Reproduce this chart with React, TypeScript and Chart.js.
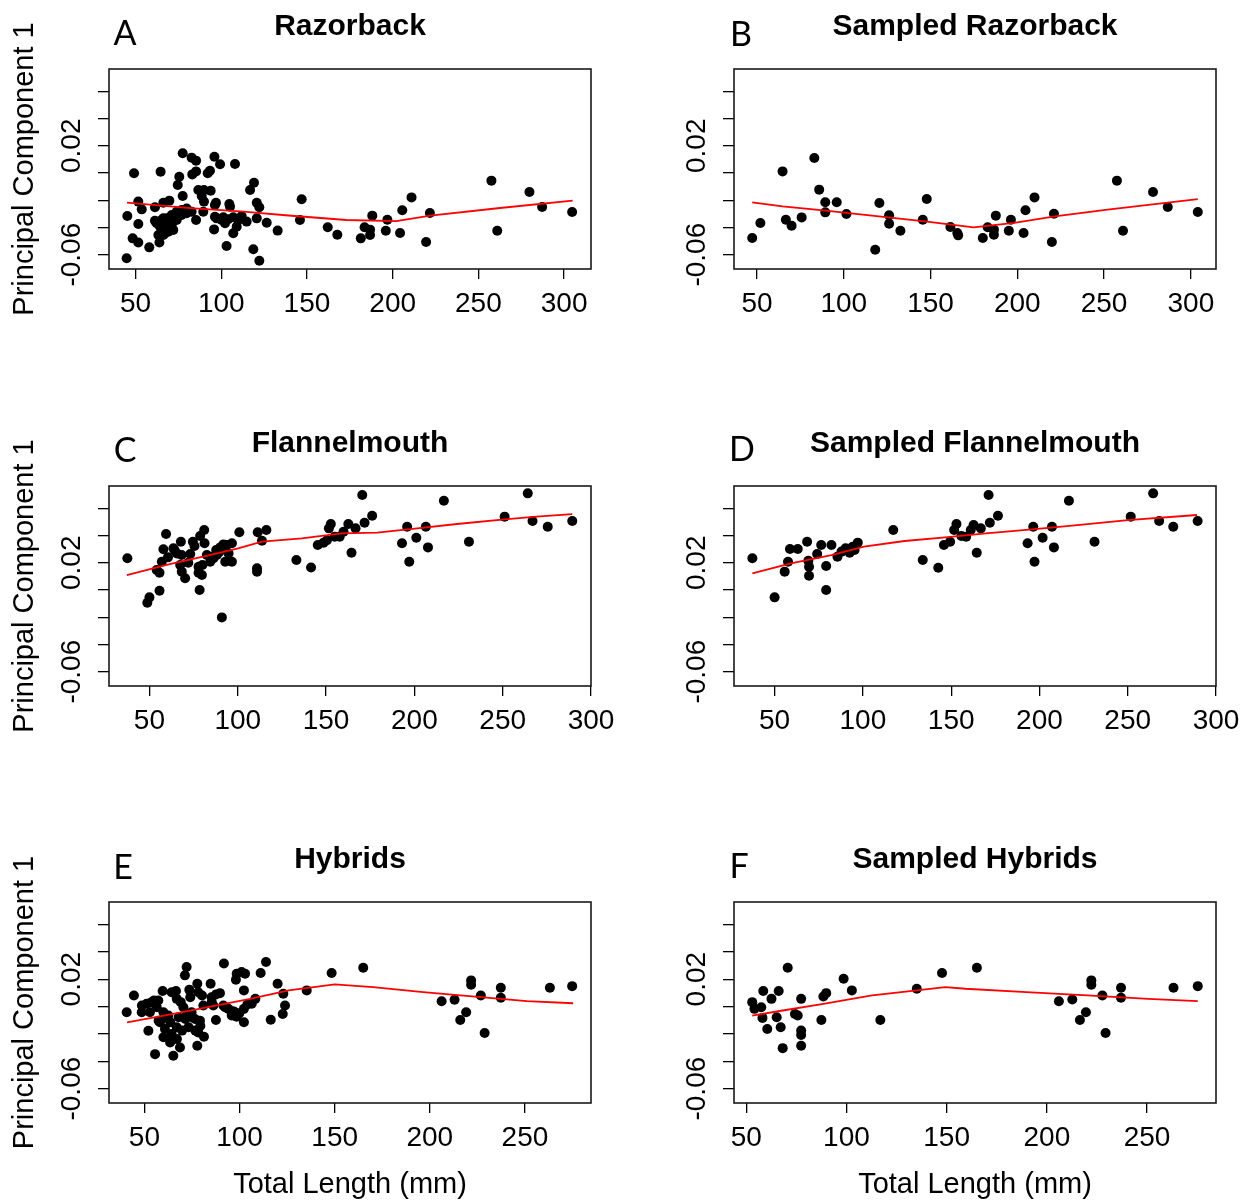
import React, { useEffect, useRef } from "react";
import { Chart, registerables } from "chart.js";

Chart.register(...registerables);

// ---------- axis values ----------
const yTickValues = [-0.06, -0.04, -0.02, 0, 0.02, 0.04, 0.06];
const yTickLabels = ["-0.06", "", "", "", "0.02", "", ""];
const xTicksTo300 = [50, 100, 150, 200, 250, 300];
const xTicksTo250 = [50, 100, 150, 200, 250];
const pcLimits = [-0.0705, 0.0764];

// ---------- data: [total length (mm), principal component 1] ----------
const razorbackPoints: [number, number][] = [
  [77.5, 0.0145], [82.7, 0.0113], [85.3, 0.0091], [96.0, 0.012], [99.3, 0.0064], [108.0, 0.0066],
  [49.1, -0.0002], [64.6, 0.001], [75.5, -0.0027], [83.1, -0.001], [85.3, 0.0012], [92.1, -0.0002], [93.4, 0.0017],
  [74.6, -0.0088], [77.5, -0.0169], [86.6, -0.0125], [89.9, -0.0125], [93.8, -0.013], [88.6, -0.0169],
  [119.1, -0.0071], [116.8, -0.0125], [146.9, -0.0193],
  [51.6, -0.021], [53.6, -0.0267], [61.3, -0.0252], [66.2, -0.0218], [69.7, -0.0203], [89.9, -0.021], [89.5, -0.0284],
  [96.9, -0.0218], [104.7, -0.0227], [120.7, -0.0218], [122.2, -0.0252],
  [45.2, -0.0316], [51.6, -0.0374], [61.3, -0.035], [85.3, -0.0345], [97.3, -0.0333], [101.2, -0.0325], [104.1, -0.034],
  [107.0, -0.0325], [110.0, -0.0345], [111.9, -0.0316], [102.2, -0.0369], [109.0, -0.0394], [114.8, -0.0357],
  [120.7, -0.0333], [126.5, -0.0365], [132.9, -0.0423], [145.9, -0.0345], [95.8, -0.0414], [107.0, -0.0443],
  [48.3, -0.048], [51.6, -0.0511], [58.0, -0.0546], [63.9, -0.0511], [67.2, -0.0443], [103.1, -0.0536], [118.7, -0.056],
  [44.8, -0.0626], [122.2, -0.0644],
  [66.2, -0.0333], [69.1, -0.0357], [64.3, -0.0394], [67.2, -0.0418], [71.1, -0.0382], [74.0, -0.0345], [76.9, -0.0308],
  [79.8, -0.0296], [82.7, -0.0284], [72.0, -0.0418], [66.2, -0.0455], [69.1, -0.0431], [62.3, -0.0369], [75.0, -0.0296],
  [65.2, -0.0345], [68.2, -0.0333], [71.1, -0.0308], [74.0, -0.0284], [76.9, -0.0272], [79.8, -0.026], [65.2, -0.0406],
  [68.2, -0.0394], [70.1, -0.037], [63.3, -0.0455], [96.3, -0.0235], [96.3, -0.0321], [100.2, -0.0345], [105.1, -0.0247],
  [162.1, -0.0399], [167.7, -0.0453], [181.4, -0.048], [183.6, -0.0399], [186.8, -0.0416], [186.8, -0.0455],
  [188.1, -0.0313], [196.0, -0.0424], [196.9, -0.0343], [204.3, -0.0441], [205.6, -0.0274], [211.0, -0.0179],
  [219.5, -0.0507], [221.7, -0.0294], [257.6, -0.0056], [261.0, -0.0424], [279.8, -0.014], [287.2, -0.025], [304.7, -0.0286],
];
const razorbackFit: [number, number][] = [
  [45, -0.0217], [82, -0.0258], [113, -0.0284], [141, -0.0314], [173, -0.0345], [202, -0.0354],
  [222, -0.0313], [262.6, -0.0257], [305, -0.0203],
];

const sampledRazorbackPoints: [number, number][] = [
  [47.2, -0.0477], [51.9, -0.0367], [64.7, 0.0012], [66.6, -0.0343], [69.9, -0.0387], [75.7, -0.0326], [83.0, 0.011],
  [85.8, -0.0122], [89.3, -0.0215], [89.3, -0.0289], [95.9, -0.0215], [101.5, -0.0301], [118.1, -0.0563], [120.5, -0.022],
  [126.1, -0.0311], [126.1, -0.0372], [132.6, -0.0424], [145.5, -0.0343], [147.8, -0.0191], [161.4, -0.0397],
  [165.4, -0.0441], [165.9, -0.0458], [180.1, -0.0477], [182.9, -0.0399], [186.5, -0.0416], [186.5, -0.0453],
  [187.6, -0.0313], [195.1, -0.0424], [196.3, -0.0343], [203.6, -0.0441], [204.7, -0.0274], [209.9, -0.0179],
  [219.9, -0.0507], [221.1, -0.0299], [257.4, -0.0056], [260.9, -0.0424], [278.2, -0.014], [286.7, -0.025], [304.0, -0.0286],
];
const sampledRazorbackFit: [number, number][] = [
  [47.2, -0.0215], [64.7, -0.0245], [88.2, -0.0274], [116.2, -0.0313], [146.7, -0.0355], [174.8, -0.0399],
  [198.2, -0.0367], [221.6, -0.0318], [252, -0.0269], [304, -0.0191],
];

const flannelmouthPoints: [number, number][] = [
  [37.5, 0.0233], [59.4, 0.0411], [57.9, 0.0299], [63.6, 0.0306], [67.8, 0.0355], [74.6, 0.0355], [78.7, 0.0397],
  [81.0, 0.0441], [81.2, 0.0343], [65.5, 0.0269], [73.1, 0.0264], [57.0, 0.0208], [54.1, 0.0147], [55.7, 0.0127],
  [67.4, 0.0184], [68.3, 0.0135], [70.2, 0.0086], [77.8, 0.0171], [77.8, 0.0127], [79.7, 0.011], [84.4, 0.0208],
  [88.2, 0.0257], [91.0, 0.0306], [93.9, 0.0331], [96.7, 0.0343], [94.8, 0.0269], [92.9, 0.0208], [96.7, 0.0208],
  [86.3, 0.0233], [82.5, 0.0257], [78.4, 0.0], [55.7, -0.0005], [50.0, -0.0054], [48.8, -0.0093], [91.0, -0.0201],
  [100.9, 0.0424], [111.3, 0.0424], [116.2, 0.0441], [113.7, 0.0362], [110.9, 0.0159], [110.9, 0.0135],
  [133.2, 0.022], [141.5, 0.0165],
  [64.2, 0.0294], [68.2, 0.0257], [75.5, 0.0323], [80.0, 0.0184], [87.8, 0.0294], [90.1, 0.0313], [91.9, 0.0335],
  [89.5, 0.028], [85.5, 0.0245], [72.0, 0.02], [60.5, 0.024],
  [145.3, 0.033], [148.6, 0.0348], [150.5, 0.0365], [151.6, 0.0453], [152.7, 0.0485], [154.9, 0.0392], [157.7, 0.0392],
  [159.9, 0.0428], [162.6, 0.0485], [164.4, 0.0274], [166.7, 0.0453], [170.5, 0.0698], [171.8, 0.0494], [176.1, 0.0546],
  [193.0, 0.0343], [195.9, 0.0465], [197.1, 0.0208], [201.1, 0.0384], [206.5, 0.0465], [207.7, 0.0313], [216.7, 0.0656],
  [230.9, 0.0355], [251.1, 0.0539], [264.2, 0.071], [266.9, 0.0507], [275.5, 0.0465], [289.4, 0.0507],
];
const flannelmouthFit: [number, number][] = [
  [37.2, 0.011], [59.7, 0.0184], [82.2, 0.025], [100.2, 0.0306], [113.7, 0.0355], [136.3, 0.0379], [158.8, 0.0416],
  [179, 0.0421], [201.6, 0.0453], [224.1, 0.0485], [251.1, 0.0519], [269.1, 0.0539], [289.4, 0.0558],
];

const sampledFlannelmouthPoints: [number, number][] = [
  [37.4, 0.0233], [50.0, -0.0054], [55.7, 0.0135], [57.6, 0.0208], [58.7, 0.0301], [63.1, 0.0301], [68.4, 0.0355],
  [69.1, 0.0215], [69.5, 0.0171], [69.5, 0.0105], [74.1, 0.0264], [76.4, 0.033], [79.2, 0.0176], [79.2, 0.0],
  [82.2, 0.033], [85.6, 0.0245], [87.9, 0.0282], [90.2, 0.0306], [92.5, 0.0274], [94.2, 0.0318], [97.1, 0.0348],
  [95.3, 0.0294], [117.2, 0.0441], [133.9, 0.022], [142.7, 0.0164], [145.9, 0.033], [149.4, 0.0355], [151.7, 0.0441],
  [153.0, 0.0485], [155.8, 0.0397], [158.5, 0.0392], [161.1, 0.0441], [162.7, 0.0477], [164.5, 0.0274], [166.8, 0.0453],
  [171.2, 0.0698], [171.9, 0.0494], [176.5, 0.0546], [193.3, 0.0343], [196.5, 0.0465], [197.2, 0.0208], [201.8, 0.0384],
  [207.1, 0.0465], [208.2, 0.0313], [216.7, 0.0656], [231.2, 0.0355], [251.7, 0.0539], [264.4, 0.071], [267.8, 0.0507],
  [275.8, 0.0465], [289.6, 0.0507],
];
const sampledFlannelmouthFit: [number, number][] = [
  [37.4, 0.0122], [59.2, 0.0196], [82.2, 0.0257], [100.6, 0.0318], [123.6, 0.036], [146.6, 0.0387], [169.6, 0.0416],
  [192.6, 0.0441], [215.6, 0.047], [250.1, 0.0514], [289.2, 0.0551],
];

const hybridPoints: [number, number][] = [
  [44.5, 0.0081], [40.7, -0.0042], [48.7, 0.0007], [48.6, -0.0042], [51.2, 0.002], [53.8, 0.0032], [56.5, -0.0005],
  [59.6, 0.0113], [64.3, 0.0105], [66.6, 0.0113], [69.1, 0.0032], [72.2, 0.0289], [71.3, 0.0228], [73.6, 0.0122],
  [77.8, 0.0167], [78.3, 0.0105], [84.8, 0.0167], [87.6, 0.0088], [89.7, 0.0098], [85.4, 0.0032], [91.8, 0.0314],
  [98.5, 0.024], [101.1, 0.0252], [102.9, 0.024], [98.1, 0.0196], [102.3, 0.0118], [111.1, 0.0245], [113.9, 0.0326],
  [120.0, 0.0167], [123.0, 0.0093], [123.9, 0.0007], [122.7, -0.0054], [116.4, -0.0096], [135.3, 0.0118], [108.3, 0.0056],
  [91.5, 0.0007], [94.1, -0.0017], [96.7, -0.0034], [99.9, -0.0049], [102.3, -0.0017], [104.1, 0.0015], [98.5, -0.0074],
  [102.3, -0.0115], [87.6, -0.0098], [52.1, -0.0177], [58.2, -0.0115], [60.0, -0.0042], [62.6, -0.0066], [60.8, -0.0164],
  [60.0, -0.0225], [64.3, -0.0201], [63.5, -0.0262], [67.0, -0.0152], [68.7, -0.0299], [65.2, -0.036], [55.6, -0.0348],
  [72.2, -0.0066], [74.8, -0.0042], [76.6, -0.0091], [79.2, -0.0103], [78.3, -0.0189], [81.3, -0.0221], [77.8, -0.0287],
  [81.0, 0.0007], [70.5, -0.0005], [67.0, 0.0056], [52.9, -0.0042], [57.3, 0.0044],
  [57.5, -0.0103], [61.0, -0.0078], [63.6, -0.0115], [68.0, -0.0078], [71.5, -0.0091], [75.0, -0.0078], [79.4, -0.014],
  [76.8, -0.0176], [73.2, -0.0152], [69.8, -0.0176], [67.1, -0.0238], [74.1, 0.0068], [80.3, 0.0081], [55.0, 0.0044],
  [106.4, 0.002], [95.9, -0.0066], [85.3, 0.0068], [86.2, 0.0007], [92.4, -0.0005], [97.6, -0.0042],
  [148.4, 0.0245], [165.0, 0.0284], [206.2, 0.0039], [213.0, 0.0049], [216.0, -0.0098], [219.1, -0.0042],
  [221.7, 0.0191], [221.7, 0.0159], [226.8, 0.0081], [228.8, -0.0194], [237.3, 0.0137], [237.3, 0.0064],
  [263.1, 0.0137], [274.8, 0.0149],
];
const hybridFit: [number, number][] = [
  [40.9, -0.0115], [65.2, -0.0054], [87.4, 0.0007], [105.6, 0.0056], [125.8, 0.0118], [150, 0.0162], [170.2, 0.0142],
  [196.5, 0.0105], [226.8, 0.0069], [251, 0.0039], [275.3, 0.0024],
];

const sampledHybridPoints: [number, number][] = [
  [53.0, 0.0032], [54.1, -0.0017], [57.5, -0.0005], [58.1, -0.0083], [58.5, 0.0113], [60.5, -0.0164], [62.6, 0.0056],
  [65.2, -0.0078], [66.2, 0.0113], [67.2, -0.0152], [68.2, -0.0304], [70.7, 0.0284], [74.3, -0.0054], [75.7, -0.0066],
  [77.4, 0.0056], [77.4, -0.0176], [77.4, -0.0208], [77.4, -0.0287], [87.5, -0.0098], [88.5, 0.0073], [89.9, 0.0098],
  [98.6, 0.0203], [102.7, 0.0118], [116.9, -0.0098], [135.1, 0.013], [147.7, 0.0245], [165.1, 0.0284], [206.0, 0.0039],
  [212.7, 0.0051], [216.5, -0.0098], [219.5, -0.0042], [222.2, 0.0191], [222.2, 0.0159], [227.7, 0.0081],
  [229.3, -0.0194], [237.0, 0.0137], [237.0, 0.0064], [263.2, 0.0137], [275.3, 0.0149],
];
const sampledHybridFit: [number, number][] = [
  [53, -0.0066], [68.2, -0.0029], [88.5, 0.002], [112.8, 0.0081], [135.1, 0.0118], [149.3, 0.0142], [159.4, 0.013],
  [189.8, 0.0105], [220.2, 0.0081], [250.6, 0.0056], [275.3, 0.0039],
];

// ---------- panel layout ----------
type PanelCfg = {
  letter: string;
  title: string;
  points: [number, number][];
  fit: [number, number][];
  xMin: number;
  xMax: number;
  xTicks: number[];
  yTitle: boolean;
  xTitle: boolean;
  left: number;
  top: number;
  width: number;
  height: number;
  area: { l: number; t: number; r: number; b: number };
  letterDx: number;
  letterDy: number;
};

const panels: PanelCfg[] = [
  { letter: "A", title: "Razorback", points: razorbackPoints, fit: razorbackFit, xMin: 34.5, xMax: 315.7, xTicks: xTicksTo300,
    yTitle: true, xTitle: false, left: 0, top: 0, width: 626, height: 410, area: { l: 109, t: 69, r: 591, b: 269 }, letterDx: 16, letterDy: -35 },
  { letter: "B", title: "Sampled Razorback", points: sampledRazorbackPoints, fit: sampledRazorbackFit, xMin: 36.7, xMax: 314.5, xTicks: xTicksTo300,
    yTitle: false, xTitle: false, left: 626, top: 0, width: 627, height: 410, area: { l: 108, t: 69, r: 590, b: 269 }, letterDx: 7, letterDy: -34 },
  { letter: "C", title: "Flannelmouth", points: flannelmouthPoints, fit: flannelmouthFit, xMin: 27.1, xMax: 300, xTicks: xTicksTo300,
    yTitle: true, xTitle: false, left: 0, top: 410, width: 626, height: 420, area: { l: 109, t: 76, r: 591, b: 276 }, letterDx: 16, letterDy: -35 },
  { letter: "D", title: "Sampled Flannelmouth", points: sampledFlannelmouthPoints, fit: sampledFlannelmouthFit, xMin: 27.0, xMax: 300, xTicks: xTicksTo300,
    yTitle: false, xTitle: false, left: 626, top: 410, width: 627, height: 420, area: { l: 108, t: 76, r: 590, b: 276 }, letterDx: 8, letterDy: -36 },
  { letter: "E", title: "Hybrids", points: hybridPoints, fit: hybridFit, xMin: 31.4, xMax: 284.7, xTicks: xTicksTo250,
    yTitle: true, xTitle: true, left: 0, top: 830, width: 626, height: 371, area: { l: 109, t: 72, r: 591, b: 273 }, letterDx: 14, letterDy: -34 },
  { letter: "F", title: "Sampled Hybrids", points: sampledHybridPoints, fit: sampledHybridFit, xMin: 43.9, xMax: 284.4, xTicks: xTicksTo250,
    yTitle: false, xTitle: true, left: 626, top: 830, width: 627, height: 371, area: { l: 108, t: 72, r: 590, b: 273 }, letterDx: 5, letterDy: -35 },
];

const ARIAL = '"Liberation Sans", Arial, Helvetica, sans-serif';

function Panel({ cfg }: { cfg: PanelCfg }) {
  const ref = useRef<HTMLCanvasElement | null>(null);

  useEffect(() => {
    const canvas = ref.current;
    if (!canvas) return;
    const a = cfg.area;
    const wy = cfg.yTitle ? 101 : 60;
    const hx = cfg.xTitle ? 96 : 60;

    const decor = {
      id: "panelDecor",
      afterDraw(chart: any) {
        const { ctx, chartArea } = chart;
        const ys = chart.scales.y;
        ctx.save();
        ctx.strokeStyle = "#1a1a1a";
        ctx.lineWidth = 1.6;
        ctx.strokeRect(chartArea.left, chartArea.top, chartArea.right - chartArea.left, chartArea.bottom - chartArea.top);

        ctx.fillStyle = "#000";
        ctx.textAlign = "center";
        ctx.textBaseline = "middle";
        ctx.font = `28px ${ARIAL}`;
        yTickValues.forEach((v, i) => {
          const lab = yTickLabels[i];
          if (!lab) return;
          const py = ys.getPixelForValue(v);
          ctx.save();
          ctx.translate(chartArea.left - 37, py);
          ctx.rotate(-Math.PI / 2);
          ctx.fillText(lab, 0, 0);
          ctx.restore();
        });

        ctx.font = `bold 30px ${ARIAL}`;
        ctx.fillText(cfg.title, (chartArea.left + chartArea.right) / 2, chartArea.top - 42);

        ctx.font = "34px Lato, 'Open Sans', sans-serif";
        ctx.fillText(cfg.letter, chartArea.left + cfg.letterDx, chartArea.top + cfg.letterDy);
        ctx.restore();
      },
    };

    const chart = new Chart(canvas, {
      type: "scatter",
      data: {
        datasets: [
          {
            data: cfg.fit.map(([x, y]) => ({ x, y })),
            showLine: true,
            borderColor: "#ff0000",
            borderWidth: 1.8,
            pointRadius: 0,
            fill: false,
            tension: 0,
            order: 0,
          } as any,
          {
            data: cfg.points.map(([x, y]) => ({ x, y })),
            pointRadius: 5,
            pointBackgroundColor: "#000",
            backgroundColor: "#000",
            borderWidth: 0,
            pointBorderWidth: 0,
            order: 1,
          } as any,
        ],
      },
      options: {
        responsive: false,
        maintainAspectRatio: false,
        animation: false,
        events: [],
        layout: {
          padding: { left: a.l - wy, top: a.t, right: cfg.width - a.r, bottom: cfg.height - a.b - hx },
        },
        plugins: {
          legend: { display: false },
          tooltip: { enabled: false },
          title: { display: false },
        },
        scales: {
          x: {
            type: "linear",
            min: cfg.xMin,
            max: cfg.xMax,
            afterBuildTicks: (s: any) => {
              s.ticks = cfg.xTicks.map((v) => ({ value: v }));
            },
            afterFit: (s: any) => {
              s.height = hx;
              s.paddingLeft = 0;
              s.paddingRight = 0;
            },
            grid: { display: true, drawOnChartArea: false, drawTicks: true, tickLength: 10, color: "#000", lineWidth: 1.3 },
            border: { display: false },
            ticks: {
              color: "#000",
              font: { family: ARIAL, size: 28 },
              padding: 8,
              autoSkip: false,
              maxRotation: 0,
              minRotation: 0,
              callback: (v: any) => String(v),
            },
            title: {
              display: cfg.xTitle,
              text: "Total Length (mm)",
              color: "#000",
              font: { family: ARIAL, size: 29, lineHeight: 1.0 },
              padding: { top: 0, bottom: 0 },
            },
          },
          y: {
            type: "linear",
            min: pcLimits[0],
            max: pcLimits[1],
            afterBuildTicks: (s: any) => {
              s.ticks = yTickValues.map((v) => ({ value: v }));
            },
            afterFit: (s: any) => {
              s.width = wy;
              s.paddingTop = 0;
              s.paddingBottom = 0;
            },
            grid: { display: true, drawOnChartArea: false, drawTicks: true, tickLength: 11, color: "#000", lineWidth: 1.3 },
            border: { display: false },
            ticks: { display: false },
            title: {
              display: cfg.yTitle,
              text: "Principal Component 1",
              color: "#000",
              font: { family: ARIAL, size: 29 },
              padding: { top: 0, bottom: 0 },
            },
          },
        },
      } as any,
      plugins: [decor],
    });
    return () => chart.destroy();
  }, [cfg]);

  return (
    <canvas
      ref={ref}
      width={cfg.width}
      height={cfg.height}
      style={{ position: "absolute", left: cfg.left, top: cfg.top, width: cfg.width, height: cfg.height }}
    />
  );
}

export default function App() {
  return (
    <div style={{ position: "absolute", left: 0, top: 0, width: 1253, height: 1201, background: "#fff", overflow: "hidden" }}>
      {panels.map((p) => (
        <Panel key={p.letter} cfg={p} />
      ))}
    </div>
  );
}
